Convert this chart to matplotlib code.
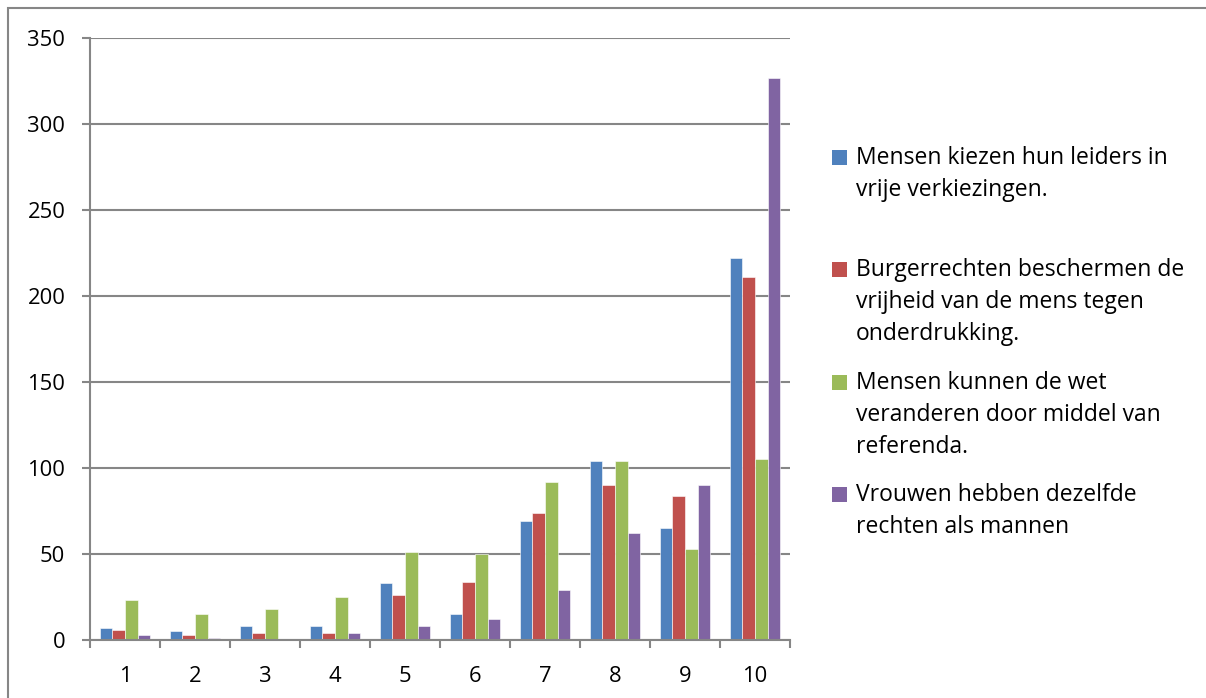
import matplotlib
matplotlib.use("Agg")
import matplotlib.pyplot as plt
import numpy as np
from matplotlib.patches import Rectangle

categories = ["1", "2", "3", "4", "5", "6", "7", "8", "9", "10"]
series_names = [
    "Mensen kiezen hun leiders in\nvrije verkiezingen.",
    "Burgerrechten beschermen de\nvrijheid van de mens tegen\nonderdrukking.",
    "Mensen kunnen de wet\nveranderen door middel van\nreferenda.",
    "Vrouwen hebben dezelfde\nrechten als mannen",
]
s1 = [7, 5, 8, 8, 33, 15, 69, 104, 65, 222]
s2 = [6, 3, 4, 4, 26, 34, 74, 90, 84, 211]
s3 = [23, 15, 18, 25, 51, 50, 92, 104, 53, 105]
s4 = [3, 1, 0, 4, 8, 12, 29, 62, 90, 327]
series = [s1, s2, s3, s4]
colors = ["#4F81BD", "#C0504D", "#9BBB59", "#8064A2"]
yticks = [0, 50, 100, 150, 200, 250, 300, 350]

plt.rcParams["font.family"] = ["Open Sans", "DejaVu Sans"]

W, H = 1206, 698
fig = plt.figure(figsize=(W / 100, H / 100), dpi=100)
fig.patch.set_facecolor("white")

# chart frame
fig.patches.append(Rectangle((8 / W, -0.1), 1.2, 1 - 8 / H + 0.1, transform=fig.transFigure,
                             fill=False, edgecolor="#868686", linewidth=1.5))

ax = fig.add_axes([90 / W, 1 - 640 / H, 700 / W, 602 / H])
x = np.arange(len(categories))
w = 1 / 5.5
for i, (vals, c) in enumerate(zip(series, colors)):
    ax.bar(x + (i - 1.5) * w, vals, width=w, color=c, edgecolor="white", linewidth=0.4, zorder=3)

ax.set_xlim(-0.5, len(categories) - 0.5)
ax.set_ylim(0, 350)
ax.set_yticks(yticks)
ax.set_yticklabels([str(v) for v in yticks], fontsize=15.8)
ax.set_xticks(x)
ax.set_xticklabels(categories, fontsize=15.8)
ax.set_xticks(np.arange(-0.5, len(categories)), minor=True)
ax.tick_params(axis="x", which="major", length=0, pad=19)
ax.tick_params(axis="x", which="minor", length=5.8, width=1.5, color="#868686", direction="out")
ax.tick_params(axis="y", length=5.8, width=1.5, color="#868686", direction="out", pad=12)
ax.grid(axis="y", color="#868686", linewidth=1.5, zorder=0)
for side in ["top", "right"]:
    ax.spines[side].set_visible(False)
for side in ["left", "bottom"]:
    ax.spines[side].set_color("#868686")
    ax.spines[side].set_linewidth(1.5)
ax.spines["bottom"].set_zorder(4)

# legend (manual, Excel style)
first_line_y = [158, 270, 383, 495]
line_gap = 32
for name, c, y0 in zip(series_names, colors, first_line_y):
    fig.patches.append(Rectangle((832 / W, 1 - (y0 + 7) / H), 15 / W, 15 / H,
                                 transform=fig.transFigure, facecolor=c, edgecolor="none"))
    for j, line in enumerate(name.split("\n")):
        fig.text(856 / W, 1 - (y0 + j * line_gap) / H, line, fontsize=16.5,
                 va="center", ha="left", color="black")

fig.savefig("out.png", dpi=100)
